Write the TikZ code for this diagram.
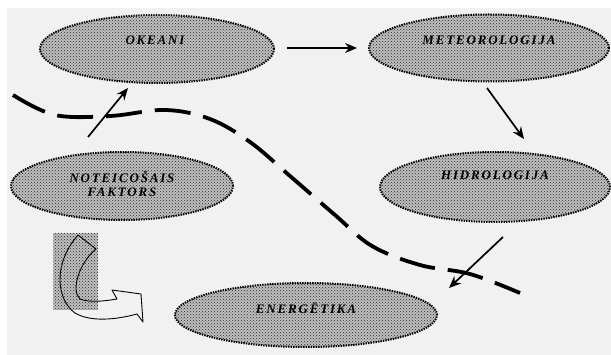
\documentclass[tikz,border=0pt]{standalone}
\usepackage{fontspec}
\setmainfont{Liberation Serif}
\newfontfamily\lblfont[LetterSpace=14, UprightFont={* Bold Italic}]{Liberation Serif}
\usetikzlibrary{shapes.geometric,arrows.meta,patterns}
\tikzset{
  blob/.style={ellipse, draw=black, line width=2pt,
    dash pattern=on 1.4pt off 1.1pt,
    preaction={fill=gray!50},
    pattern=crosshatch dots, pattern color=black!85,
    inner sep=0pt},
  lbl/.style={font=\lblfont\fontsize{13}{13}\selectfont,
    align=center, inner sep=0pt},
  link/.style={line width=1.7pt, -{Stealth[length=12pt,width=10pt]}},
  border/.style={line width=3.8pt, dash pattern=on 36pt off 13pt}
}
\begin{document}
\begin{tikzpicture}[x=1pt,y=-1pt]
  \useasboundingbox (0,0) rectangle (611,355);
  \fill[white] (0,0) rectangle (611,355);
  \fill[gray!11] (7,8) rectangle (611,355);

  % the five fields
  \node[blob, minimum width=234pt, minimum height=68pt] (okeani) at (157,49) {};
  \node[blob, minimum width=240pt, minimum height=67pt] (meteo) at (489,48) {};
  \node[blob, minimum width=230pt, minimum height=70pt] (hidro) at (495,187) {};
  \node[blob, minimum width=222pt, minimum height=68pt] (faktors) at (122,186) {};
  \node[blob, minimum width=262pt, minimum height=64pt] (energ) at (306,315) {};

  \node[lbl] (okeanit) at ([xshift=-2pt,yshift=9pt]okeani.center) {OKEANI};
  \node[lbl] (meteot) at ([yshift=8pt]meteo.center) {METEOROLOGIJA};
  \node[lbl] (hidrot) at ([yshift=12pt]hidro.center) {HIDROLOGIJA};
  \node[lbl] (faktorst) at ([yshift=2.5pt]faktors.center) {NOTEICOŠAIS\\[1pt]FAKTORS};
  \node[lbl] (energt) at ([yshift=7pt]energ.center) {ENERGĒTIKA};

  % dashed dividing line
  \draw[border] plot[smooth, tension=0.6] coordinates {
    (13,95) (55,115) (110,116) (165,110) (210,119) (250,142) (290,176)
    (335,215) (372,246) (420,265) (470,274) (520,293)};

  % links between the fields
  \coordinate (a1) at (287,48);   \coordinate (b1) at (357,48);
  \coordinate (a2) at (487,88);   \coordinate (b2) at (524,139);
  \coordinate (a3) at (88,137);   \coordinate (b3) at (128,88);
  \coordinate (a4) at (503,237);  \coordinate (b4) at (449,288);
  \draw[link] (a1) -- (b1);
  \draw[link] (a2) -- (b2);
  \draw[link] (a3) -- (b3);
  \draw[link] (a4) -- (b4);

  % curved block arrow on a dotted square
  \fill[gray!50] (53,233) rectangle (98,310);
  \fill[pattern=crosshatch dots, pattern color=black!85] (53,233) rectangle (98,310);
  \draw[line width=0.9pt, line join=round]
    (78,235) -- (96,249)
    .. controls (80,262) and (70,290) .. (80,299)
    .. controls (90,303) and (105,301) .. (117,299)
    -- (112,290) -- (141,294) -- (143,322) -- (137,314)
    .. controls (115,320) and (90,322) .. (75,313)
    .. controls (57,300) and (52,265) .. (78,235) -- cycle;
\end{tikzpicture}
\end{document}
